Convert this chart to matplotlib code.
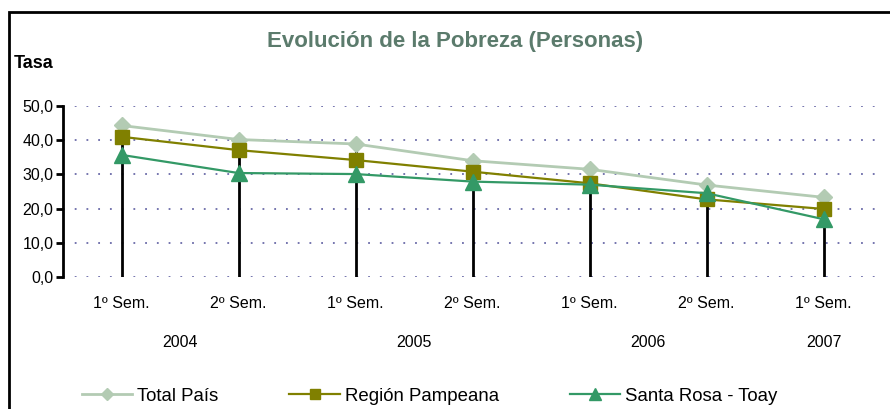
import matplotlib
matplotlib.use("Agg")
from matplotlib import pyplot as plt
from matplotlib.patches import Rectangle

plt.rcParams["font.family"] = ["Liberation Sans", "DejaVu Sans"]

semesters = ["1º Sem.", "2º Sem.", "1º Sem.", "2º Sem.", "1º Sem.", "2º Sem.", "1º Sem."]
years = ["2004", "2005", "2006", "2007"]
year_pos = [0.5, 2.5, 4.5, 6]
total_pais = [44.3, 40.2, 38.9, 34.0, 31.5, 26.9, 23.3]
region_pampeana = [41.0, 37.1, 34.2, 30.8, 27.4, 22.7, 19.9]
santa_rosa = [35.7, 30.4, 30.1, 27.9, 27.0, 24.5, 16.9]
yticks = [0, 10, 20, 30, 40, 50]


def main():
    fig = plt.figure(figsize=(8.9, 4.09), dpi=100)
    ax = fig.add_axes([63 / 890, 132 / 409, 819 / 890, 171 / 409])
    x = list(range(len(semesters)))

    # drop lines up to the highest point
    tops = [max(a, b, c) for a, b, c in zip(total_pais, region_pampeana, santa_rosa)]
    ax.vlines(x, 0, tops, colors="black", lw=2, zorder=1)

    ax.plot(x, total_pais, color="#b3cbb3", lw=2, marker="D", ms=8,
            label="Total País", zorder=3)
    ax.plot(x, region_pampeana, color="#808000", lw=1.6, marker="s", ms=10,
            label="Región Pampeana", zorder=4)
    ax.plot(x, santa_rosa, color="#339966", lw=1.6, marker="^", ms=11,
            label="Santa Rosa - Toay", zorder=5)

    ax.set_xlim(-0.5, 6.5)
    ax.set_ylim(0, 50)
    ax.set_yticks(yticks)
    ax.set_yticklabels([f"{v:.1f}".replace(".", ",") for v in yticks], fontsize=11.5)
    ax.tick_params(axis="y", direction="out", length=5, width=2, pad=2)
    ax.set_xticks([])
    for v in yticks:
        ax.axhline(v, color="#6a6aa8", lw=1.3, ls=(0, (1, 5.5)), zorder=0)
    for s in ["top", "right", "bottom"]:
        ax.spines[s].set_visible(False)
    ax.spines["left"].set_linewidth(2)

    tr = ax.get_xaxis_transform()
    for i, lab in enumerate(semesters):
        ax.text(i, -0.155, lab, transform=tr, ha="center", va="center", fontsize=11.5)
    for p, lab in zip(year_pos, years):
        ax.text(p, -0.385, lab, transform=tr, ha="center", va="center", fontsize=11.5)

    fig.text(455 / 890, 1 - 42 / 409, "Evolución de la Pobreza (Personas)",
             ha="center", va="center", fontsize=16, fontweight="bold", color="#5b7b6c")
    fig.text(14 / 890, 1 - 63 / 409, "Tasa", ha="left", va="center",
             fontsize=13, fontweight="bold")

    fig.legend(loc="center left", bbox_to_anchor=(82 / 890, 1 - 396 / 409), ncol=3,
               frameon=False, fontsize=13.4, handlelength=2.7, columnspacing=3.8,
               handletextpad=0.28, markerscale=0.75, borderpad=0, borderaxespad=0)

    fig.add_artist(Rectangle((9 / 890, -0.1), 1.0, 1.1 - 12 / 409, fill=False,
                             lw=2, edgecolor="black", transform=fig.transFigure))
    fig.savefig("out.png", dpi=100)


if __name__ == "__main__":
    main()
